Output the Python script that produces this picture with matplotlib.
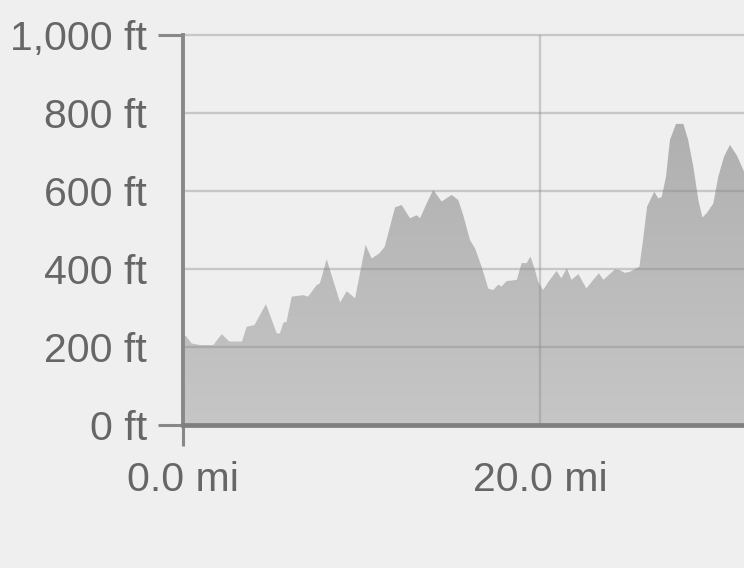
import numpy as np
import matplotlib.pyplot as plt
from matplotlib.colors import LinearSegmentedColormap

# elevation profile
miles = [0.0, 0.17, 0.49, 0.95, 1.7, 2.17, 2.6, 3.3, 3.57, 4.0, 4.65, 5.25, 5.43, 5.62, 5.8,
         6.09, 6.74, 7.0, 7.5, 7.67, 8.05, 8.8, 9.17, 9.64, 10.23, 10.57, 11.0, 11.3, 11.88,
         12.25, 12.72, 13.1, 13.28, 13.65, 14.02, 14.49, 15.05, 15.42, 15.7, 16.08, 16.36,
         16.73, 17.1, 17.38, 17.66, 17.85, 18.13, 18.7, 18.97, 19.25, 19.47, 19.72, 19.9,
         20.18, 20.47, 20.93, 21.2, 21.5, 21.77, 22.15, 22.6, 22.98, 23.3, 23.55, 24.2, 24.48,
         24.76, 25.04, 25.57, 25.75, 26.0, 26.4, 26.63, 26.82, 27.06, 27.28, 27.62, 28.03,
         28.3, 28.59, 28.87, 29.1, 29.34, 29.71, 29.99, 30.31, 30.64, 31.02, 31.43, 31.7]
elev_ft = [228, 228, 209, 205, 205, 233, 214, 214, 252, 256, 310, 235, 235, 262, 265,
           329, 333, 329, 359, 363, 425, 314, 343, 325, 462, 427, 440, 457, 558,
           564, 530, 538, 530, 568, 603, 573, 590, 577, 538, 474, 453,
           406, 350, 346, 360, 355, 369, 372, 415, 415, 432, 397, 367,
           346, 367, 395, 376, 402, 372, 387, 350, 372, 389, 372, 399, 397,
           390, 393, 406, 466, 560, 598, 581, 585, 637, 731, 772, 772,
           731, 662, 577, 532, 543, 568, 637, 688, 718, 692, 650, 630]

y_ticks = [0, 200, 400, 600, 800, 1000]
y_labels = ['0 ft', '200 ft', '400 ft', '600 ft', '800 ft', '1,000 ft']
x_ticks = [0, 20]
x_labels = ['0.0 mi', '20.0 mi']

bg = '#efefef'
txt = '#666666'
plt.rcParams['font.family'] = ['Liberation Sans', 'DejaVu Sans']

fig = plt.figure(figsize=(7.44, 5.68), dpi=100, facecolor=bg)
ax = fig.add_axes([183 / 744, 143 / 568, 561 / 744, 390 / 568])
ax.set_facecolor(bg)

x_max = 561 / 17.85

# area with a soft vertical gradient
poly = ax.fill_between(miles, elev_ft, 0, color='none', lw=0)
cmap = LinearSegmentedColormap.from_list('g', ['#c6c6c6', '#afafaf'])
grad = np.linspace(0, 1, 256).reshape(-1, 1)
img = ax.imshow(grad, cmap=cmap, aspect='auto', origin='lower',
                extent=[0, x_max, 0, 800], zorder=1)
img.set_clip_path(poly.get_paths()[0], transform=ax.transData)
ax.set_xlim(0, x_max)
ax.set_ylim(0, 1000)

# grid on top of the area
for yv in y_ticks[1:]:
    ax.axhline(yv, color='#888888', alpha=0.38, lw=1.7, zorder=2, clip_on=False)
ax.axvline(20, color='#888888', alpha=0.38, lw=1.7, zorder=2)

for s in ['top', 'right']:
    ax.spines[s].set_visible(False)
ax.spines['left'].set_color('#888888')
ax.spines['left'].set_linewidth(2.8)
ax.spines['bottom'].set_color('#7f7f7f')
ax.spines['bottom'].set_linewidth(3.4)
for s in ['left', 'bottom']:
    ax.spines[s].set_zorder(3)

ax.set_yticks(y_ticks)
ax.set_yticklabels(y_labels)
ax.set_xticks(x_ticks)
ax.set_xticklabels(x_labels)
ax.tick_params(axis='y', length=18, width=2.2, color='#888888', pad=8,
               labelsize=29.5, labelcolor=txt)
ax.tick_params(axis='x', length=15, width=2.2, color='#888888', pad=11,
               labelsize=29.5, labelcolor=txt)

# only the end ticks carry a tick mark
for i, t in enumerate(ax.yaxis.get_major_ticks()):
    if i not in (0, len(y_ticks) - 1):
        t.tick1line.set_visible(False)
ax.xaxis.get_major_ticks()[1].tick1line.set_visible(False)

fig.savefig('out.png', dpi=100, facecolor=bg)
